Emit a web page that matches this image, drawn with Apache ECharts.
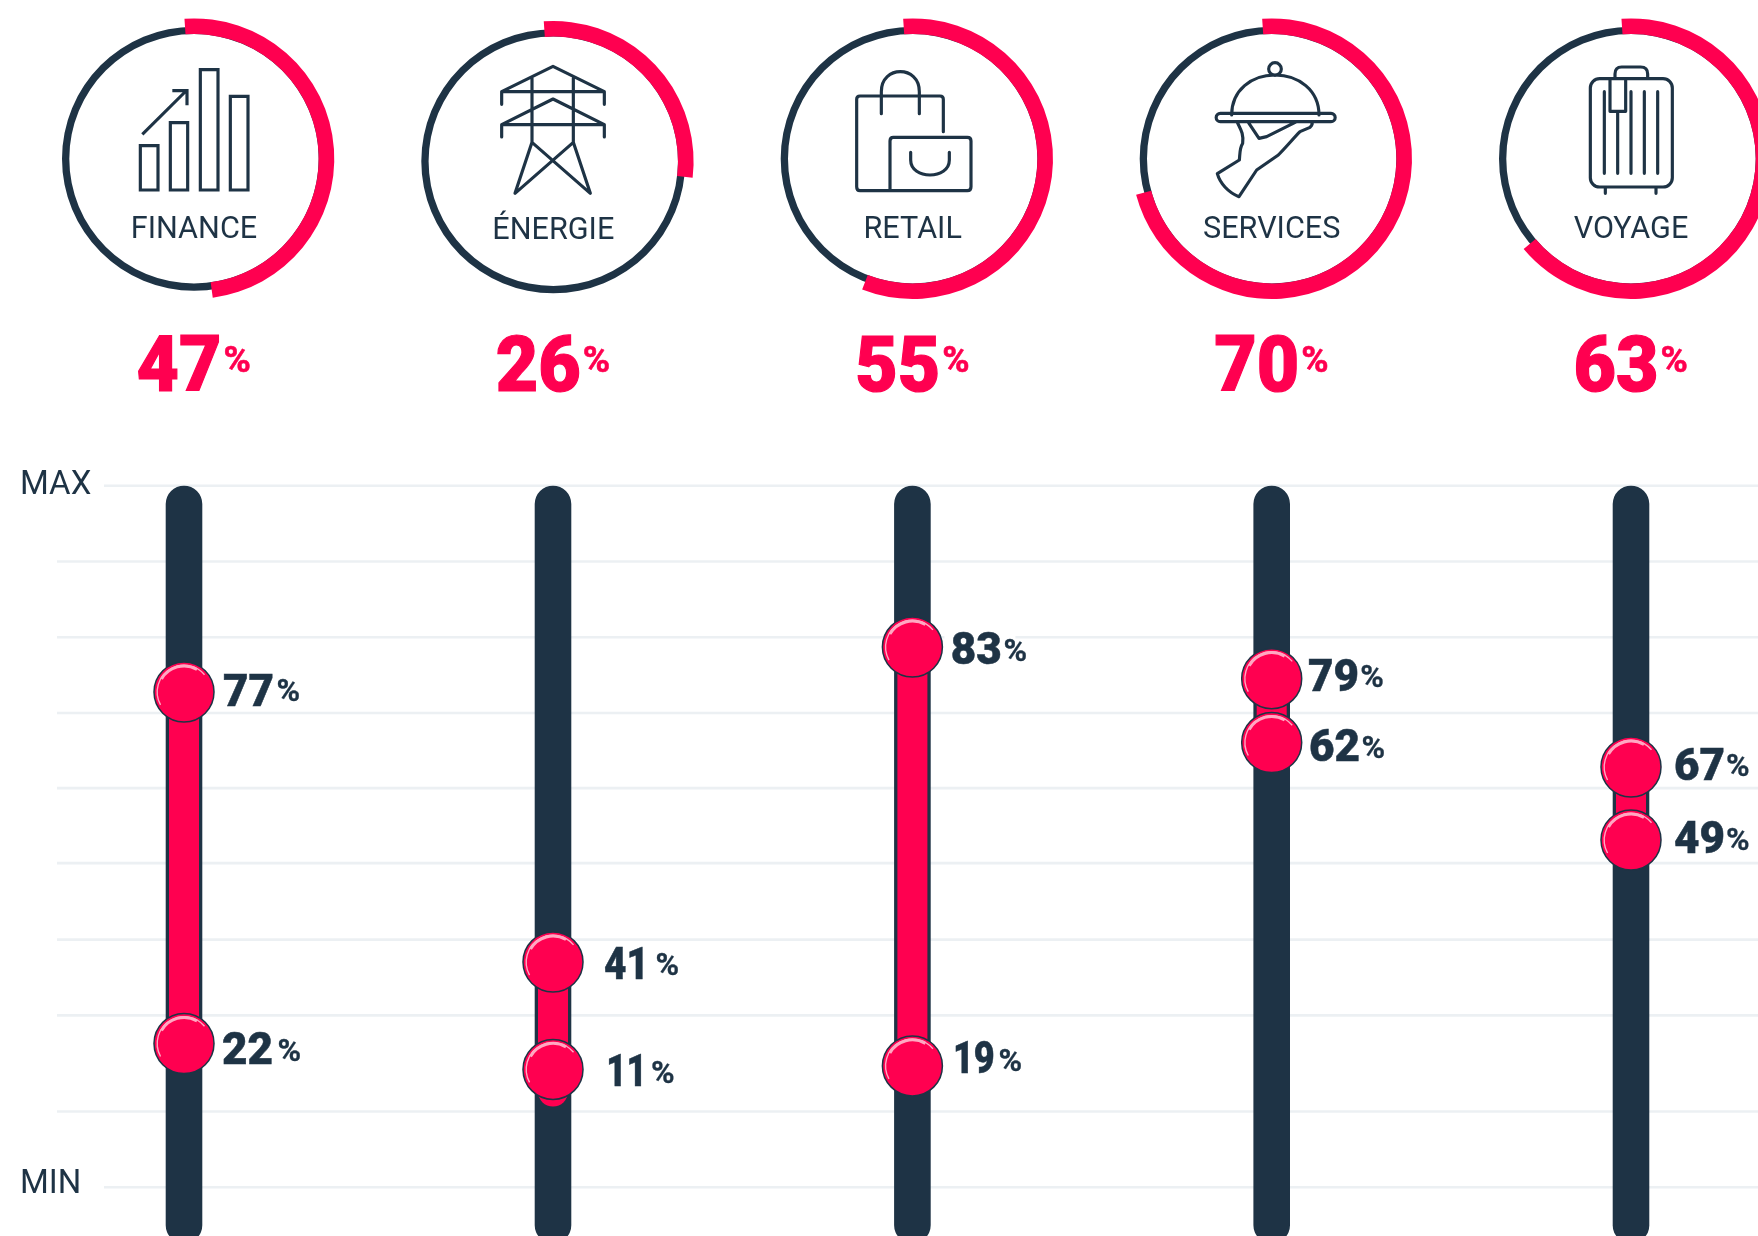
<!DOCTYPE html>
<html>
<head>
<meta charset="utf-8">
<title>Secteurs</title>
<script src="https://cdn.jsdelivr.net/npm/echarts@6/dist/echarts.min.js"></script>
<style>
  html, body { margin: 0; padding: 0; background: #fff; }
  #main { width: 1758px; height: 1236px; }
</style>
</head>
<body>
<div id="main"></div>
<script>
// values
const sectors = ["FINANCE", "ÉNERGIE", "RETAIL", "SERVICES", "VOYAGE"];
const sharePct = [47, 26, 55, 70, 63];
const highLabels = [77, 41, 83, 79, 67];
const lowLabels = [22, 11, 19, 62, 49];
// where the handles really sit on the MIN-MAX scale (not the same as their labels)
const highPos = [70.6, 32.1, 77, 72.5, 59.9];
const lowPos = [20.5, 16.8, 17.3, 63.4, 49.5];
const barLowEnd = [20.5, 11.5, 17.3, 63.4, 49.5];
const gridLevels = [100, 89.2, 78.4, 67.6, 56.9, 46.2, 35.3, 24.5, 10.8, 0];

// layout
const W = 1758, H = 1236;
const RED = "#ff0050", DARK = "#1e3345", GRID = "#ecf0f3", FONT = "Roboto";
const ringX = [194, 553.3, 912.7, 1271.7, 1631];
const ringY = [158.7, 161.3, 158.7, 158.7, 158.7];
const titleY = [237.7, 238.7, 237.7, 237.7, 237.7];
const sliderX = [184, 553, 912.4, 1271.7, 1631];
const ringLead = 1.95; // arc overshoots the percentage a little at both ends
// [number right, number baseline, % left, % baseline, number x scale] relative to the handle
const highLabelPos = [[90, 13.7, 92.5, 9.4, 1], [96, 16.7, 102.5, 13.4, 0.88], [89.3, 17, 91, 14, 1], [87.3, 12.3, 88.5, 8.6, 1], [94, 13, 95, 8.7, 1]];
const lowLabelPos = [[89, 20.2, 93.5, 17.4, 1], [94, 16.7, 98, 13.2, 0.8], [82.3, 6.6, 86, 5, 0.82], [88.3, 18.7, 89.8, 16, 1], [94, 13, 95, 9.7, 1]];

// icons traced in 3x crop coordinates, origin = left of the crop
const iconOrigin = [40, 400, 760, 1120, 1480];
const iconPaths = [
  "M301 437H354V570H301Z M391 368H443V570H391Z M481 209H534V570H481Z M571 289H624V570H571Z M307 403L441 270 M397 272H441V316",
  "M305 313V275L459 199L613 275V313 M305 275H613 M305 411V374L459 297L613 374V411 M305 374H613 M396 235V427 M520 235V427 M396 427L345 580L520 427L571 580L396 427",
  "M550 395V298Q550 288 540 288H300Q290 288 290 298V560Q290 572 300 572H622Q633 572 633 560V423Q633 412 622 412H400Q390 412 390 423V572 M364 341V275C364 195 478 195 478 275V341 M452 457V480C452 540 568 540 568 480V457",
  "M446 207A19 19 0 1 1 484 207A19 19 0 1 1 446 207 M335 345C335 270 395 225 465 225C535 225 597 270 597 345 M301 340H633A12 12 0 0 1 633 365H301A12 12 0 0 1 301 340Z M352 367C360 385 372 400 368 430C358 445 360 465 358 480L292 521C300 550 325 578 357 590L410 510L475 465C500 440 520 415 540 395L570 382C578 375 578 370 575 365 M385 367L417 415L440 410L530 365",
  "M359 236H549A28 28 0 0 1 577 264V533A28 28 0 0 1 549 561H359A28 28 0 0 1 331 533V264A28 28 0 0 1 359 236Z M405 236V222Q405 201 425 201H482Q503 201 503 222V236 M390 236V334H437V236 M373 275V520 M413 334V520 M453 275V520 M493 275V520 M533 275V520 M376 561V580 M528 561V580"
];

function txt(text, x, baseline, size, weight, color, align, fat, sx) {
  const t = {
    type: "text",
    style: {
      text: text, x: 0, y: 0,
      font: weight + " " + size + "px " + FONT,
      fill: color, align: align || "left", verticalAlign: "middle"
    },
    x: x, y: baseline - 0.25 * size, scaleX: sx || 1
  };
  if (fat) {
    t.style.stroke = color;
    t.style.lineWidth = fat;
  }
  return t;
}

// little shine on the top left of a handle
function shine(cx, cy) {
  const rad = (d) => d * Math.PI / 180;
  return [
    { type: "arc", shape: { cx: cx, cy: cy, r: 26.8, startAngle: rad(151), endAngle: rad(320), clockwise: true }, style: { fill: null, stroke: "#ffa8c2", lineWidth: 1.4 } },
    { type: "arc", shape: { cx: cx, cy: cy, r: 26, startAngle: rad(210), endAngle: rad(300), clockwise: true }, style: { fill: null, stroke: "#ffa8c2", lineWidth: 3 } }
  ];
}

const ringSeries = [];
sectors.forEach((name, i) => {
  ringSeries.push({
    type: "pie", silent: true, center: [ringX[i], ringY[i]], radius: [124.7, 132],
    label: { show: false }, labelLine: { show: false }, z: 1,
    itemStyle: { color: DARK }, data: [{ name: name, value: 1 }]
  });
  ringSeries.push({
    type: "pie", silent: true, center: [ringX[i], ringY[i]], radius: [124.7, 140.3],
    startAngle: 93.9, label: { show: false }, labelLine: { show: false }, z: 2,
    data: [
      { name: name, value: sharePct[i] + ringLead, itemStyle: { color: RED } },
      { name: "reste", value: 100 - sharePct[i] - ringLead, itemStyle: { color: "rgba(0,0,0,0)" } }
    ]
  });
});

const option = {
  animation: false,
  backgroundColor: "#fff",
  grid: { left: 0, right: 0, top: 485.7, bottom: H - 1187.3 },
  xAxis: { type: "value", min: 0, max: W, show: false },
  yAxis: { type: "value", min: 0, max: 100, show: false },
  series: ringSeries.concat([
    {
      // grid lines, MAX and MIN start further right to leave room for their word
      type: "custom", coordinateSystem: "cartesian2d", silent: true, z: 3,
      data: gridLevels.map((v) => [v]),
      renderItem: (params, api) => {
        const v = api.value(0);
        const a = api.coord([v === 100 || v === 0 ? 104 : 57, v]);
        const b = api.coord([W, v]);
        return { type: "line", shape: { x1: a[0], y1: a[1], x2: b[0], y2: b[1] }, style: { stroke: GRID, lineWidth: 2.6 } };
      },
      encode: { y: 0 }
    },
    {
      // tracks
      type: "custom", coordinateSystem: "cartesian2d", silent: true, z: 4,
      data: sliderX.map((x) => [x, 100, -8]),
      renderItem: (params, api) => {
        const a = api.coord([api.value(0), api.value(1)]);
        const b = api.coord([api.value(0), api.value(2)]);
        return { type: "rect", shape: { x: a[0] - 18.3, y: a[1], width: 36.6, height: b[1] - a[1], r: 18.3 }, style: { fill: DARK } };
      }
    },
    {
      // red range between the handles
      type: "custom", coordinateSystem: "cartesian2d", silent: true, z: 5,
      data: sliderX.map((x, i) => [x, highPos[i], barLowEnd[i]]),
      renderItem: (params, api) => {
        const a = api.coord([api.value(0), api.value(1)]);
        const b = api.coord([api.value(0), api.value(2)]);
        return { type: "rect", shape: { x: a[0] - 15, y: a[1], width: 30, height: b[1] - a[1], r: 15 }, style: { fill: RED } };
      }
    },
    {
      // handles with their labels
      type: "custom", coordinateSystem: "cartesian2d", silent: true, z: 6,
      data: sliderX.flatMap((x, i) => [
        [x, highPos[i], highLabels[i], i, 1],
        [x, lowPos[i], lowLabels[i], i, 0]
      ]),
      renderItem: (params, api) => {
        const c = api.coord([api.value(0), api.value(1)]);
        const high = api.value(4) === 1;
        const lp = (high ? highLabelPos : lowLabelPos)[api.value(3)];
        const children = [];
        // 83% sits on a grid line, the line is cut out behind it
        if (high && api.value(2) === 83) {
          children.push({ type: "rect", shape: { x: c[0] + 32, y: c[1] - 14, width: 71, height: 8 }, style: { fill: "#fff" } });
        }
        children.push(
          { type: "circle", shape: { cx: c[0], cy: c[1], r: 30 }, style: { fill: RED, stroke: DARK, lineWidth: 1.5 } },
          ...shine(c[0], c[1]),
          txt(String(api.value(2)), c[0] + lp[0], c[1] + lp[1], 44, 900, DARK, "right", 0.5, lp[4]),
          txt("%", c[0] + lp[2], c[1] + lp[3], 32, 700, DARK, "left", 0.3)
        );
        return { type: "group", children: children };
      }
    },
    {
      // icons, sector names and big percentages
      type: "custom", coordinateSystem: "none", silent: true, z: 7,
      data: sectors.map((s, i) => [i]),
      renderItem: (params) => {
        const i = params.dataIndex;
        const anchor = ringX[i] + 28.5;
        return {
          type: "group",
          children: [
            {
              type: "group", x: iconOrigin[i], y: 0, scaleX: 1 / 3, scaleY: 1 / 3,
              children: [{
                type: "path", shape: { pathData: iconPaths[i] },
                style: { fill: "none", stroke: DARK, lineWidth: 9.5, lineJoin: i === 0 ? "miter" : "round", lineCap: i === 0 ? "butt" : "round" }
              }]
            },
            txt(sectors[i], ringX[i], titleY[i], 30.6, 400, DARK, "center"),
            txt(String(sharePct[i]), anchor - 1, 390.5, 78, 900, RED, "right", 1.2, 0.94),
            txt("%", anchor + 1, 371.5, 37, 700, RED, "left", 0.6)
          ]
        };
      }
    },
    {
      // MAX / MIN words
      type: "custom", coordinateSystem: "cartesian2d", silent: true, z: 7,
      data: [["MAX", 100, 8.3], ["MIN", 0, 5.4]],
      renderItem: (params, api) => {
        const d = option.series[option.series.length - 1].data[params.dataIndex];
        const c = api.coord([20, d[1]]);
        return txt(d[0], c[0], c[1] + d[2], 33, 400, DARK);
      }
    }
  ])
};

const myChart = echarts.init(document.getElementById("main"), null, { renderer: "canvas" });
myChart.setOption(option);
</script>
</body>
</html>
